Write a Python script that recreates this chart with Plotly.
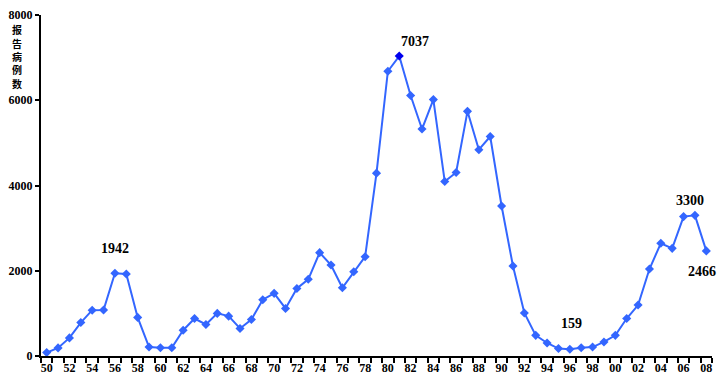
import plotly.graph_objects as go

years = list(range(1950, 2009))
cases = [80, 190, 425, 785, 1075, 1080, 1942, 1925, 905, 210,
         195, 195, 605, 880, 740, 1000, 935, 645, 855, 1320,
         1470, 1115, 1585, 1800, 2425, 2135, 1600, 1975, 2330, 4290,
         6680, 7037, 6110, 5325, 6015, 4095, 4305, 5740, 4840, 5150,
         3520, 2110, 1010, 485, 305, 175, 159, 195, 210, 330,
         485, 880, 1195, 2040, 2645, 2525, 3270, 3300, 2466]
tick_years = list(range(1950, 2009, 2))
tick_labels = ["%02d" % (y % 100) for y in tick_years]
label_years = [1956, 1981, 1996, 2007, 2008]
label_text = ["1942", "7037", "159", "3300", "2466"]
label_offsets = [(0, -25), (16, -15), (2, -26), (-5, -15), (-4, 21)]
y_ticks = [0, 2000, 4000, 6000, 8000]
y_title = "报告病例数"

# page has an 8px body margin; compensate so the plot lands where the reference's does
PAGE_OFF = 8
W, H = 726, 386
L, R, T, B = 41, 14, 15, 30
plot_h = H - T - B

marker_colors = ["#0000EE" if y == 1981 else "#3366FF" for y in years]

fig = go.Figure()
fig.add_trace(go.Scatter(
    x=years, y=cases, mode="lines+markers",
    line=dict(color="#3366FF", width=2),
    marker=dict(symbol="diamond", size=7, color=marker_colors),
    hoverinfo="skip", showlegend=False,
))

font_serif = dict(family="Liberation Serif", size=12, color="black", weight="bold")

for yr, txt, (dx, dy) in zip(label_years, label_text, label_offsets):
    v = cases[years.index(yr)]
    fig.add_annotation(x=yr, y=v, text=txt, showarrow=False,
                       xshift=dx, yshift=-dy,
                       font=dict(family="Liberation Serif", size=14, color="black", weight="bold"))

for i, ch in enumerate(y_title):
    pix = 29.5 + 13.5 * i
    fig.add_annotation(xref="paper", yref="paper", x=-0.0358,
                       y=1 - (pix - T) / plot_h,
                       text=ch, showarrow=False, borderpad=0,
                       xanchor="center", yanchor="middle",
                       font=dict(family="Noto Sans CJK SC", size=10, color="black", weight="bold"))

fig.update_layout(
    width=W - PAGE_OFF, height=H - PAGE_OFF,
    margin=dict(l=L - PAGE_OFF, r=R, t=T - PAGE_OFF, b=B, autoexpand=False),
    plot_bgcolor="white", paper_bgcolor="white",
    xaxis=dict(range=[1949.5, 2008.5], tickvals=tick_years, ticktext=tick_labels,
               ticks="", showgrid=False, zeroline=False, automargin=False,
               showline=True, linecolor="black", linewidth=2,
               tickfont=font_serif,
               minor=dict(tick0=1949.5, dtick=1, ticks="outside", ticklen=5,
                          tickwidth=2, tickcolor="black", showgrid=False)),
    yaxis=dict(range=[0, 8000], tickvals=y_ticks, ticks="outside", ticklen=4,
               tickwidth=2, tickcolor="black", automargin=False,
               showgrid=False, zeroline=False,
               showline=True, linecolor="black", linewidth=2,
               tickfont=font_serif),
)

fig.write_html("out.html")
